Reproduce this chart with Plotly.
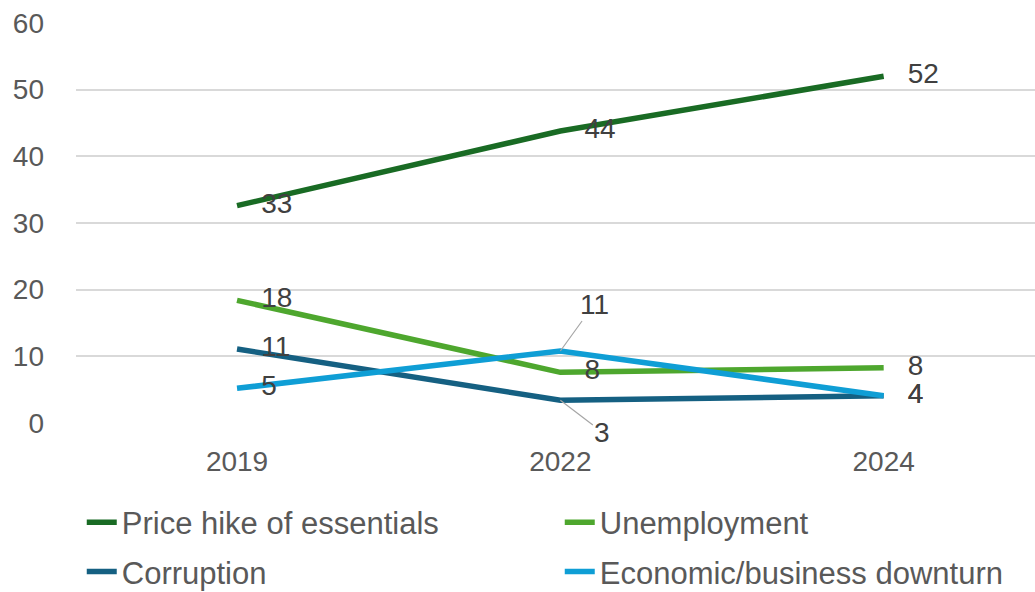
import plotly.graph_objects as go

# Survey shares by year (percent)
years = ["2019", "2022", "2024"]
price_hike = [32.6, 43.8, 52.0]
unemployment = [18.4, 7.6, 8.3]
corruption = [11.1, 3.4, 4.1]
econ_downturn = [5.2, 10.8, 4.1]

series = [
    ("Price hike of essentials", price_hike, "#196B24", "legend"),
    ("Unemployment", unemployment, "#4EA72E", "legend"),
    ("Corruption", corruption, "#156082", "legend2"),
    ("Economic/business downturn", econ_downturn, "#0F9ED5", "legend2"),
]

FONT = "Liberation Sans, Arial, sans-serif"
LABEL_COLOR = "#404040"
AXIS_COLOR = "#595959"

# Labels that are pulled away from crowded points and joined by a leader line
leader = {("Economic/business downturn", 1): (34, -47),
          ("Corruption", 1): (42, 32)}

fig = go.Figure()
for name, vals, color, lg in series:
    fig.add_trace(go.Scatter(
        x=years, y=vals, name=name, mode="lines",
        line=dict(color=color, width=5.5),
        legend=lg, hoverinfo="x+y+name",
    ))

# Value labels to the right of each point (an invisible marker sets the gap)
for name, vals, color, lg in series:
    idx = [i for i in range(len(vals)) if (name, i) not in leader]
    fig.add_trace(go.Scatter(
        x=[years[i] for i in idx], y=[vals[i] for i in idx],
        text=[f"{round(vals[i])}" for i in idx],
        mode="markers+text", textposition="middle right",
        marker=dict(size=37, opacity=0),
        textfont=dict(size=28, color=LABEL_COLOR, family=FONT),
        showlegend=False, hoverinfo="skip", cliponaxis=False,
    ))

annotations = []
for name, vals, color, lg in series:
    for i, v in enumerate(vals):
        if (name, i) in leader:
            ax, ay = leader[(name, i)]
            annotations.append(dict(
                x=i, y=v, xref="x", yref="y", text=f"{round(v)}",
                showarrow=True, ax=ax, ay=ay, arrowhead=0, arrowwidth=1.2,
                arrowcolor="#A6A6A6", standoff=0,
                font=dict(size=28, color=LABEL_COLOR, family=FONT),
            ))

legend_style = dict(
    orientation="h", xanchor="left", yanchor="middle",
    font=dict(size=31, color=AXIS_COLOR, family=FONT),
    entrywidth=433, entrywidthmode="pixels",
    bgcolor="rgba(0,0,0,0)",
)

fig.update_layout(
    width=1035, height=592,
    margin=dict(l=76, r=0, t=23, b=169, autoexpand=False),
    plot_bgcolor="white", paper_bgcolor="white",
    font=dict(family=FONT, color=AXIS_COLOR, size=28),
    showlegend=True,
    legend=dict(x=0.006, y=-0.249, **legend_style),
    legend2=dict(x=0.006, y=-0.372, **legend_style),
    annotations=annotations,
    xaxis=dict(
        type="category", range=[-0.498, 2.468],
        showgrid=False, showline=False, zeroline=False, ticks="",
        tickfont=dict(size=28, color=AXIS_COLOR, family=FONT),
        ticklabelstandoff=19,
    ),
    yaxis=dict(
        range=[0, 60], dtick=10, showgrid=True, gridcolor="#D9D9D9",
        gridwidth=1.5, zeroline=False, showline=False, ticks="",
        tickfont=dict(size=28, color=AXIS_COLOR, family=FONT),
        ticklabelstandoff=31,
    ),
)

fig.write_html("out.html")
